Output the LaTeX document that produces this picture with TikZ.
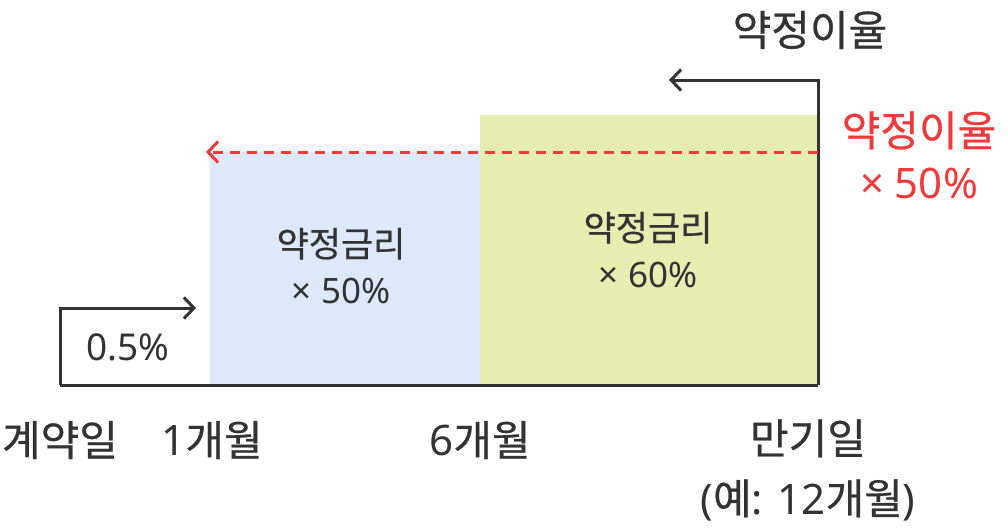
\documentclass[tikz,border=0pt]{standalone}
\usepackage{fontspec}
\setmainfont{Noto Sans CJK KR}[FakeBold=0.6]
\newfontfamily\latin{Noto Sans}
\usetikzlibrary{positioning,calc,arrows.meta}
\definecolor{ink}{HTML}{333333}
\definecolor{rate}{HTML}{EE3A3A}
\definecolor{bluebox}{HTML}{DDE9FB}
\definecolor{greenbox}{HTML}{E6EDB0}
\tikzset{>={Straight Barb[length=10pt,width=21pt]}}

\begin{document}
\begin{tikzpicture}[x=1pt,y=-1pt,
  axis/.style={ink,line width=3pt},
  label/.style={ink,font=\fontsize{42}{60}\selectfont,align=center},
  redlabel/.style={rate,font=\fontsize{42}{52}\selectfont,align=center},
  boxtext/.style={ink,font=\fontsize{35}{47}\selectfont,align=center}]
\useasboundingbox (0,0) rectangle (1008,531);
\coordinate (O) at (60,385);
\coordinate (Ot) at (60,308);
\coordinate (Oa) at (196,308);
\coordinate (M1) at (210,385);
\coordinate (M6) at (480,385);
\coordinate (E) at (818,385);
\coordinate (Et) at (818,80);
\coordinate (Ea) at (669,80);
\coordinate (Rd) at (818,152);
\coordinate (Ra) at (206,152);
% boxes
\fill[bluebox] (M1) rectangle (480,152);
\fill[greenbox] (M6) rectangle (818,115);
% frame
\draw[axis,->] (O) -- (Ot) -- (Oa);
\draw[axis] (O) -- (E);
\draw[axis,->] (E) -- (Et) -- (Ea);
\draw[rate,line width=3pt,dash pattern=on 10pt off 7pt,->] (Rd) -- (Ra);
% texts
\node[label,font=\latin\fontsize{37}{40}\selectfont] (base) at (128,347) {0.5\%};
\node[boxtext] (low) at (341,266) {약정금리\\ {\latin × 50\%}};
\node[boxtext] (high) at (648,250) {약정금리\\ {\latin × 60\%}};
\node[label] (top) at (810,30) {약정이율};
\node[redlabel] (half) at (919,155) {약정이율\\ {\latin × 50\%}};
\node[label] (t0) at (60,440) {계약일};
\node[label] (t1) at (212,440) {{\latin 1}개월};
\node[label] (t6) at (480,440) {{\latin 6}개월};
\node[label] (tE) at (808,470) {만기일\\{\latin (}예{\latin : 12}개월{\latin )}};
\end{tikzpicture}
\end{document}
